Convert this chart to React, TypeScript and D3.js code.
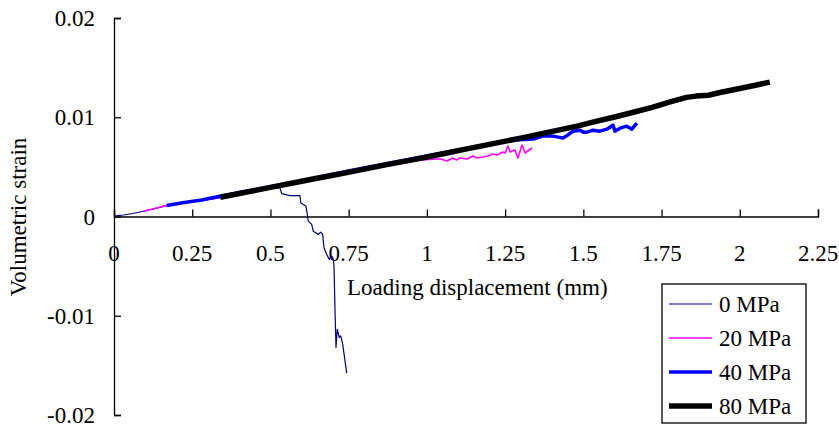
import React from "react";
import * as d3 from "d3";

// loading displacement (mm) vs volumetric strain
const mpa0: [number, number][] = [
  [0, 0.00003], [0.03, 0.00015], [0.06, 0.0003], [0.094, 0.00053], [0.13, 0.0008],
  [0.168, 0.0011], [0.25, 0.0015], [0.34, 0.0019], [0.42, 0.0024], [0.5, 0.0029],
  [0.5305, 0.00288], [0.536, 0.00231], [0.5625, 0.00211], [0.5944, 0.00211],
  [0.5967, 0.00138], [0.6136, 0.00104], [0.6178, 0.0002], [0.621, -0.00047],
  [0.6318, -0.0008], [0.637, -0.00148], [0.653, -0.00181], [0.6606, -0.00158],
  [0.667, -0.00181], [0.6711, -0.00315], [0.6798, -0.00382], [0.6881, -0.00432],
  [0.6958, -0.00399], [0.7009, -0.00432], [0.7031, -0.005], [0.7063, -0.00935],
  [0.7095, -0.0132], [0.7136, -0.01136], [0.72, -0.01219], [0.7245, -0.01203],
  [0.7309, -0.01286], [0.7383, -0.01454], [0.7437, -0.01578],
];

const mpa20: [number, number][] = [
  [0.094, 0.00053], [0.13, 0.0008], [0.168, 0.0011], [0.25, 0.0015], [0.34, 0.0019],
  [0.45, 0.0026], [0.55, 0.0032], [0.65, 0.0038], [0.75, 0.0044], [0.85, 0.005],
  [0.93, 0.0054], [0.98, 0.0057], [1.032, 0.0058], [1.045, 0.0058], [1.064, 0.0056],
  [1.083, 0.0059], [1.095, 0.0057], [1.106, 0.0059], [1.128, 0.0058], [1.147, 0.0061],
  [1.16, 0.0059], [1.179, 0.006], [1.195, 0.0061], [1.211, 0.0063], [1.225, 0.0062],
  [1.243, 0.0065], [1.25, 0.0064], [1.259, 0.0071], [1.266, 0.0065], [1.272, 0.0066],
  [1.282, 0.0067], [1.291, 0.0059], [1.304, 0.0072], [1.314, 0.0064], [1.323, 0.0066],
  [1.336, 0.0069],
];

const mpa40: [number, number][] = [
  [0.168, 0.0011], [0.22, 0.00138], [0.28, 0.00167], [0.339, 0.00204], [0.45, 0.0027],
  [0.6, 0.0036], [0.75, 0.0046], [0.9, 0.0055], [1.0, 0.0061], [1.1, 0.0067],
  [1.2, 0.0073], [1.28, 0.0077], [1.34, 0.0078], [1.37, 0.0081], [1.403, 0.0081],
  [1.42, 0.008], [1.435, 0.0079], [1.45, 0.0082], [1.467, 0.0086], [1.489, 0.0087],
  [1.5, 0.0085], [1.512, 0.0085], [1.531, 0.0087], [1.553, 0.0086], [1.575, 0.0088],
  [1.595, 0.0092], [1.601, 0.0086], [1.617, 0.0089], [1.639, 0.0091], [1.655, 0.0088],
  [1.671, 0.0094],
];

const mpa80: [number, number][] = [
  [0.34, 0.00194], [0.4, 0.00232], [0.46, 0.00268], [0.52, 0.00306], [0.58, 0.00342],
  [0.64, 0.0038], [0.7, 0.00416], [0.76, 0.00452], [0.82, 0.0049], [0.88, 0.00528],
  [0.94, 0.00563], [1.0, 0.006], [1.06, 0.00638], [1.12, 0.00676], [1.18, 0.00714],
  [1.24, 0.00752], [1.3, 0.0079], [1.36, 0.0083], [1.42, 0.0087], [1.48, 0.0091],
  [1.54, 0.00958], [1.6, 0.01003], [1.66, 0.0105], [1.72, 0.011], [1.78, 0.01158],
  [1.83, 0.012], [1.86, 0.01213], [1.9, 0.01222], [1.94, 0.01252], [2.0, 0.0129],
  [2.05, 0.01323], [2.096, 0.01354],
];

const seriesNames = ["0 MPa", "20 MPa", "40 MPa", "80 MPa"];
const seriesData = [mpa0, mpa20, mpa40, mpa80];
const seriesColors = ["#000080", "#ff00ff", "#0000ff", "#000000"];
const seriesWidths = [1.2, 1.6, 3.5, 5.5];

const xTicks = [0, 0.25, 0.5, 0.75, 1, 1.25, 1.5, 1.75, 2, 2.25];
const yTicks = [0.02, 0.01, 0, -0.01, -0.02];

const W = 839;
const H = 428;
const FONT = "'Liberation Serif', 'Times New Roman', serif";

const App = () => {
  const svg = React.useRef<SVGSVGElement>(null);

  React.useEffect(() => {
    drawChart(svg.current);
  }, []);

  return (
    <div>
      <svg ref={svg} width={W} height={H} style={{ position: "absolute", left: 0, top: 0, background: "#fff" }} />
    </div>
  );
};

function drawChart(el: SVGSVGElement | null) {
  if (!el) return;
  const root = d3.select(el);
  root.selectAll("*").remove();

  const x = d3.scaleLinear().domain([0, 2.25]).range([114, 818]);
  const y = d3.scaleLinear().domain([-0.02, 0.02]).range([415, 18]);

  // x axis sits on y = 0, ticks pointing up
  const xAxis = d3
    .axisTop(x)
    .tickValues(xTicks)
    .tickSize(7)
    .tickFormat(() => "");
  const gx = root.append("g").attr("transform", `translate(0,${y(0)})`).call(xAxis);
  gx.select(".domain").attr("stroke", "#000").attr("stroke-width", 1.3);
  gx.selectAll(".tick line").attr("stroke", "#000").attr("stroke-width", 1.3);

  root
    .append("g")
    .selectAll("text")
    .data(xTicks)
    .join("text")
    .attr("x", (d) => x(d))
    .attr("y", y(0) + 44)
    .attr("text-anchor", "middle")
    .attr("font-family", FONT)
    .attr("font-size", 23)
    .text((d) => String(d));

  // y axis, ticks pointing right
  const yAxis = d3
    .axisRight(y)
    .tickValues(yTicks)
    .tickSize(7)
    .tickFormat(() => "");
  const gy = root.append("g").attr("transform", `translate(${x(0)},0)`).call(yAxis);
  gy.select(".domain").attr("stroke", "#000").attr("stroke-width", 1.3);
  gy.selectAll(".tick line").attr("stroke", "#000").attr("stroke-width", 1.3);

  root
    .append("g")
    .selectAll("text")
    .data(yTicks)
    .join("text")
    .attr("x", 95)
    .attr("y", (d) => y(d) + 8)
    .attr("text-anchor", "end")
    .attr("font-family", FONT)
    .attr("font-size", 23)
    .text((d) => String(d));

  // axis titles
  root
    .append("text")
    .attr("x", 347)
    .attr("y", 295)
    .attr("font-family", FONT)
    .attr("font-size", 23)
    .text("Loading displacement (mm)");

  root
    .append("text")
    .attr("transform", "translate(26,217) rotate(-90)")
    .attr("text-anchor", "middle")
    .attr("font-family", FONT)
    .attr("font-size", 23)
    .text("Volumetric strain");

  // series
  const line = d3
    .line<[number, number]>()
    .x((d) => x(d[0]))
    .y((d) => y(d[1]));

  seriesData.forEach((data, i) => {
    root
      .append("path")
      .datum(data)
      .attr("fill", "none")
      .attr("stroke", seriesColors[i])
      .attr("stroke-width", seriesWidths[i])
      .attr("stroke-linejoin", "round")
      .attr("d", line);
  });

  // legend
  const lg = root.append("g").attr("transform", "translate(662,284)");
  lg.append("rect")
    .attr("width", 144)
    .attr("height", 139)
    .attr("fill", "#fff")
    .attr("stroke", "#000")
    .attr("stroke-width", 1.3);

  seriesNames.forEach((name, i) => {
    const cy = 20 + i * 34;
    lg.append("line")
      .attr("x1", 7)
      .attr("x2", 50)
      .attr("y1", cy)
      .attr("y2", cy)
      .attr("stroke", seriesColors[i])
      .attr("stroke-width", seriesWidths[i]);
    lg.append("text")
      .attr("x", 57)
      .attr("y", cy + 8)
      .attr("font-family", FONT)
      .attr("font-size", 23)
      .text(name);
  });
}

export default App;
